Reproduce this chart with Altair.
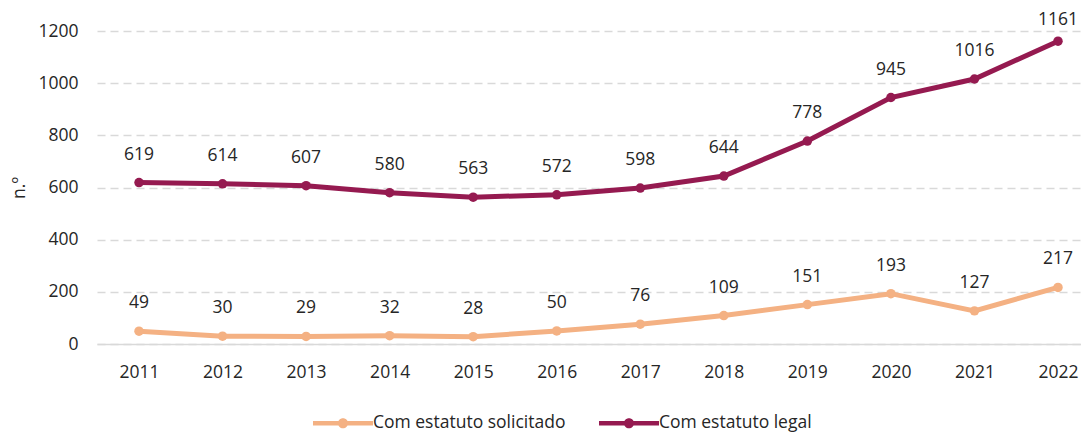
import altair as alt
import pandas as pd

years = ["2011", "2012", "2013", "2014", "2015", "2016", "2017", "2018", "2019", "2020", "2021", "2022"]
solicitado = [49, 30, 29, 32, 28, 50, 76, 109, 151, 193, 127, 217]
legal = [619, 614, 607, 580, 563, 572, 598, 644, 778, 945, 1016, 1161]
series_names = ["Com estatuto solicitado", "Com estatuto legal"]
series_colors = ["#F4B183", "#951A50"]

rows = []
for y, v in zip(years, solicitado):
    rows.append({"ano": y, "valor": v, "serie": series_names[0]})
for y, v in zip(years, legal):
    rows.append({"ano": y, "valor": v, "serie": series_names[1]})
df = pd.DataFrame(rows)

FONT = "Open Sans"
FS = 17.5
TXT = "#262626"

legend_symbol = ("M-1,-0.075H1V0.075H-1Z"
                 "M-0.17,0A0.17,0.17,0,1,1,0.17,0A0.17,0.17,0,1,1,-0.17,0Z")

xscale = alt.Scale(range=[0, 1003], padding=0.5027)
x = alt.X("ano:O", scale=xscale,
          axis=alt.Axis(title=None, labelAngle=0, ticks=False, domain=True, grid=False,
                        domainColor="#d9d9d9", domainWidth=1.5,
                        labelPadding=19, labelFontSize=FS, labelFont=FONT, labelColor=TXT))
y = alt.Y("valor:Q", scale=alt.Scale(domain=[0, 1200]),
          axis=alt.Axis(title="n.º", values=[0, 200, 400, 600, 800, 1000, 1200], format="d",
                        ticks=False, domain=False, grid=True, gridDash=[8, 5], gridColor="#d9d9d9",
                        gridWidth=1.5, labelPadding=19, labelFontSize=FS, labelFont=FONT,
                        labelColor=TXT, titleFont=FONT, titleFontSize=FS, titleColor=TXT,
                        titleFontWeight="normal", titlePadding=9))
color = alt.Color("serie:N", scale=alt.Scale(domain=series_names, range=series_colors),
                  legend=alt.Legend(title=None, orient="none", legendX=216, legendY=362,
                                    direction="horizontal",
                                    symbolType=legend_symbol,
                                    symbolSize=3600, symbolStrokeWidth=0, symbolOpacity=1,
                                    labelFont=FONT, labelFontSize=FS, labelColor=TXT,
                                    labelLimit=400, labelOffset=0, columnPadding=33))

base = alt.Chart(df).encode(x=x, y=y, color=color)
lines = base.mark_line(strokeWidth=5, interpolate="linear")
points = base.mark_point(filled=True, size=90, opacity=1)
lab_enc = dict(x=alt.X("ano:O", scale=xscale), y="valor:Q", text="valor:Q")
labels = alt.Chart(df).transform_filter("datum.valor <= 1100").mark_text(
    fontSize=FS, font=FONT, color=TXT, baseline="middle", dy=-28).encode(**lab_enc)
labels_top = alt.Chart(df).transform_filter("datum.valor > 1100").mark_text(
    fontSize=FS, font=FONT, color=TXT, baseline="middle", dy=-21).encode(**lab_enc)

chart = (lines + points + labels + labels_top).properties(
    width=970, height=313,
    background="white",
    autosize=alt.AutoSizeParams(type="none"),
    padding={"left": 89, "top": 23, "right": 14, "bottom": 89},
).configure_view(stroke=None, strokeWidth=0)

chart.save("out.html", embed_options={"renderer": "svg", "actions": False})
